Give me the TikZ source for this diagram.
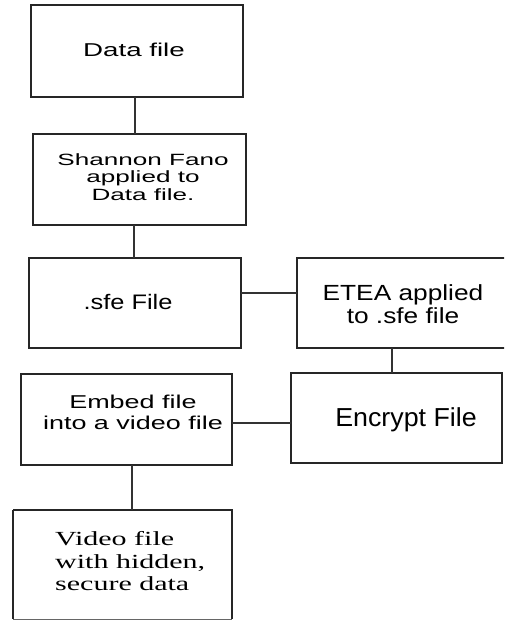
\documentclass[tikz,border=0pt]{standalone}
\usepackage{fontspec}
\usepackage{graphicx}
\setmainfont{Liberation Sans}
\newfontfamily\videoserif{Liberation Serif}
\newcommand\boxtxt[5]{\scalebox{#1}[1]{\fontsize{#2}{#3}\selectfont\begin{tabular}[t]{@{}#4@{}}#5\end{tabular}}}
\begin{document}
\begin{tikzpicture}[x=1pt,y=-1pt,
  flowbox/.style={draw=black!85, line width=1.9pt, fill=none},
  conn/.style={draw=black!80, line width=1.4pt},
  txt/.style={anchor=base, inner sep=0pt, text=black}]
\useasboundingbox[fill=white] (0,0) rectangle (504,621);
\clip (0,0) rectangle (504,621);
% boxes
\draw[flowbox] (31,5) rectangle (243,97);
\node[inner sep=0, minimum width=212pt, minimum height=92pt] (b1) at (137,51) {};
\draw[flowbox] (33,134) rectangle (246,225);
\node[inner sep=0, minimum width=213pt, minimum height=91pt] (b2) at (139.5,179.5) {};
\draw[flowbox] (29,258) rectangle (241,348);
\node[inner sep=0, minimum width=212pt, minimum height=90pt] (b3) at (135,303) {};
\draw[flowbox] (297,258) rectangle (512,348);
\node[inner sep=0, minimum width=215pt, minimum height=90pt] (b4) at (404.5,303) {};
\draw[flowbox] (291,373) rectangle (502,463);
\node[inner sep=0, minimum width=211pt, minimum height=90pt] (b5) at (396.5,418) {};
\draw[flowbox] (21,374) rectangle (232,465);
\node[inner sep=0, minimum width=211pt, minimum height=91pt] (b6) at (126.5,419.5) {};
\draw[flowbox] (13,510) -- (13,619);
\draw[flowbox] (13,510) -- (232,510) -- (232,619);
\draw[draw=black!60, line width=1pt] (13,619) -- (232,619);
\node[inner sep=0, minimum width=219pt, minimum height=109pt] (b7) at (122.5,564.5) {};
% texts
\node[txt] (t1) at (134,56.7) {\boxtxt{1.49}{18.6}{21}{c}{Data file}};
\node[txt] (t2) at (143,165.7) {\boxtxt{1.6}{16.3}{17.2}{c}{Shannon Fano\\applied to\\Data file.}};
\node[txt] (t3) at (128,309.3) {\boxtxt{1.21}{21}{23}{c}{.sfe File}};
\node[txt] (t4) at (403,300) {\boxtxt{1.2}{21.9}{23.3}{c}{ETEA applied\\to .sfe file}};
\node[txt] (t5) at (406,426) {\boxtxt{1.03}{26}{28}{c}{Encrypt File}};
\node[txt] (t6) at (133,408.3) {\boxtxt{1.45}{18.6}{21}{c}{Embed file\\into a video file}};
\node[txt, anchor=base west] (t7) at (55,545.7) {\videoserif\boxtxt{1.5}{20}{22.3}{l}{Video file\\with hidden,\\secure data}};
% connectors
\draw[conn] ([xshift=-2pt]b1.south) -- ([xshift=-2pt]b1.south |- b2.north);
\draw[conn] ([xshift=-5.5pt]b2.south) -- ([xshift=-5.5pt]b2.south |- b3.north);
\draw[conn] ([yshift=10pt]b3.east) -- ([yshift=10pt]b3.east -| b4.west);
\draw[conn] ([xshift=-12.5pt]b4.south) -- ([xshift=-12.5pt]b4.south |- b5.north);
\draw[conn] ([yshift=-3.5pt]b6.east) -- ([yshift=-3.5pt]b6.east -| b5.west);
\draw[conn] ([xshift=5.5pt]b6.south) -- ([xshift=5.5pt]b6.south |- b7.north);
\end{tikzpicture}
\end{document}
